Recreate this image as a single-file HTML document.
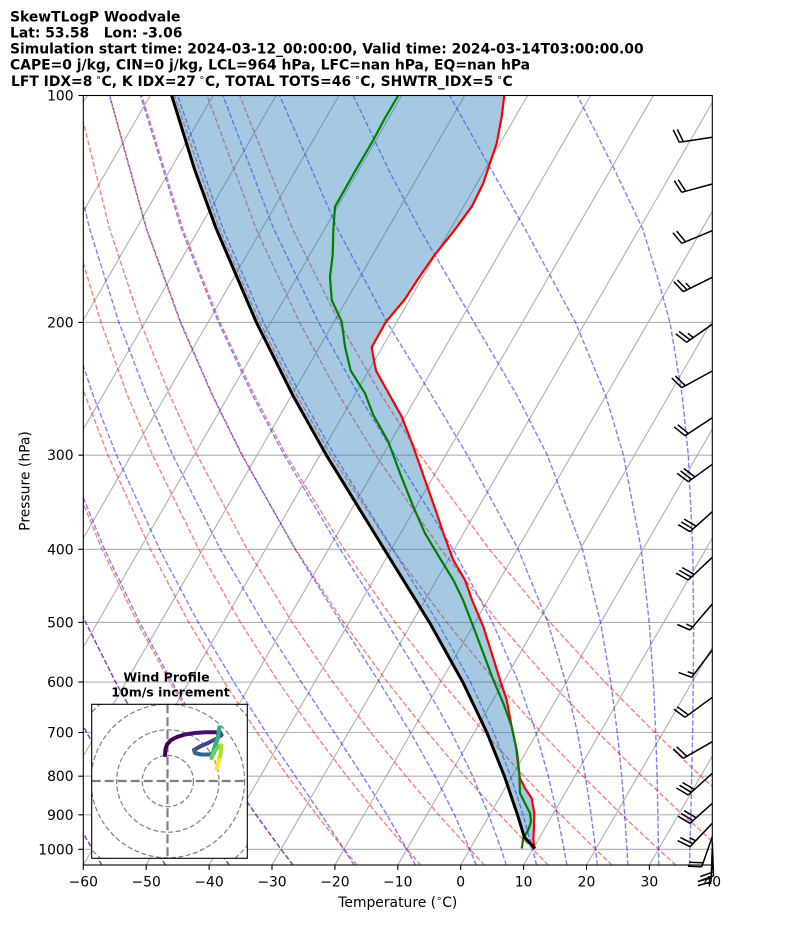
<!DOCTYPE html>
<html><head><meta charset="utf-8">
<style>
html,body{margin:0;padding:0;background:#fff;}
svg{display:block;}
text{font-family:"DejaVu Sans","Liberation Sans",sans-serif;}
.t{white-space:pre;}
</style></head>
<body>
<svg width="794" height="937" viewBox="0 0 794 937" xmlns="http://www.w3.org/2000/svg">
<defs>
<clipPath id="ax"><rect x="83.3" y="95.5" width="629" height="769.5"/></clipPath>
<clipPath id="hc"><rect x="91.7" y="704.3" width="155.6" height="154"/></clipPath>
</defs>
<rect width="794" height="937" fill="#fff"/>

<g font-weight="bold" font-size="13.9" fill="#000">
<text class="t" x="10" y="21.3">SkewTLogP Woodvale</text>
<text class="t" x="10" y="37.3">Lat: 53.58   Lon: -3.06</text>
<text class="t" x="10" y="53.4">Simulation start time: 2024-03-12_00:00:00, Valid time: 2024-03-14T03:00:00.00</text>
<text class="t" x="10" y="69.5">CAPE=0 j/kg, CIN=0 j/kg, LCL=964 hPa, LFC=nan hPa, EQ=nan hPa</text>
<text class="t" x="11" y="85.8">LFT IDX=8<tspan font-size="9.7" font-weight="normal" dy="-5.5"> ∘</tspan><tspan dy="5.5">C, K IDX=27</tspan><tspan font-size="9.7" font-weight="normal" dy="-5.5"> ∘</tspan><tspan dy="5.5">C, TOTAL TOTS=46</tspan><tspan font-size="9.7" font-weight="normal" dy="-5.5"> ∘</tspan><tspan dy="5.5">C, SHWTR_IDX=5</tspan><tspan font-size="9.7" font-weight="normal" dy="-5.5"> ∘</tspan><tspan dy="5.5">C</tspan></text>
</g>

<g clip-path="url(#ax)">
  <path fill="none" stroke="#b0b0b0" stroke-width="1.1" d="M-357 865L87.3 95.5M-294.1 865L150.2 95.5M-231.2 865L213.1 95.5M-168.3 865L276 95.5M-105.4 865L338.9 95.5M-42.5 865L401.8 95.5M20.4 865L464.7 95.5M83.3 865L527.6 95.5M146.2 865L590.5 95.5M209.1 865L653.4 95.5M272 865L716.3 95.5M334.9 865L779.2 95.5M397.8 865L842.1 95.5M460.7 865L905 95.5M523.6 865L967.9 95.5M586.5 865L1030.8 95.5M649.4 865L1093.7 95.5M83.3 322.4L712.3 322.4M83.3 455.2L712.3 455.2M83.3 549.3L712.3 549.3M83.3 622.4L712.3 622.4M83.3 682.1L712.3 682.1M83.3 732.5L712.3 732.5M83.3 776.2L712.3 776.2M83.3 814.8L712.3 814.8M83.3 849.3L712.3 849.3"/>

  <g fill="none" stroke="#ff0000" stroke-opacity="0.5" stroke-width="1.39" stroke-dasharray="5.14 2.22">
    <path d="M102 865.3L92.4 849.3L72.5 814.8L51.8 776.2L29.9 732.5L6.8 682.1L-17.5 622.4L-43.2 549.3L-70.4 455.2L-84.1 395.5L-97.6 322.4L-110 228.2L-118.7 95.5"/>
    <path d="M165.7 865.3L155.3 849.3L133.6 814.8L110.8 776.2L86.7 732.5L61.2 682.1L34.1 622.4L5.2 549.3L-25.8 455.2L-41.8 395.5L-57.9 322.4L-73.5 228.2L-86.1 95.5"/>
    <path d="M229.5 865.3L218.2 849.3L194.6 814.8L169.8 776.2L143.5 732.5L115.6 682.1L85.7 622.4L53.6 549.3L18.8 455.2L0.5 395.5L-18.2 322.4L-36.9 228.2L-53.5 95.5"/>
    <path d="M293.3 865.3L281.1 849.3L255.6 814.8L228.8 776.2L200.3 732.5L169.9 682.1L137.3 622.4L102 549.3L63.4 455.2L42.9 395.5L21.5 322.4L-0.3 228.2L-21 95.5"/>
    <path d="M357.1 865.3L344 849.3L316.6 814.8L287.8 776.2L257.1 732.5L224.3 682.1L188.9 622.4L150.4 549.3L108 455.2L85.2 395.5L61.2 322.4L36.3 228.2L11.6 95.5"/>
    <path d="M420.9 865.3L406.9 849.3L377.7 814.8L346.9 776.2L313.9 732.5L278.6 682.1L240.5 622.4L198.8 549.3L152.6 455.2L127.5 395.5L101 322.4L72.9 228.2L44.2 95.5"/>
    <path d="M484.6 865.3L469.8 849.3L438.7 814.8L405.9 776.2L370.8 732.5L333 682.1L292.1 622.4L247.2 549.3L197.2 455.2L169.9 395.5L140.6 322.4L109.4 228.2L76.8 95.5"/>
    <path d="M548.4 865.3L532.7 849.3L499.7 814.8L464.9 776.2L427.6 732.5L387.4 682.1L343.7 622.4L295.6 549.3L241.8 455.2L212.2 395.5L180.3 322.4L146 228.2L109.4 95.5"/>
    <path d="M612.2 865.3L595.6 849.3L560.8 814.8L523.9 776.2L484.4 732.5L441.7 682.1L395.3 622.4L344.1 549.3L286.4 455.2L254.5 395.5L220 322.4L182.6 228.2L141.9 95.5"/>
    <path d="M676 865.3L658.5 849.3L621.8 814.8L582.9 776.2L541.2 732.5L496.1 682.1L446.9 622.4L392.5 549.3L331 455.2L296.9 395.5L259.8 322.4L219.2 228.2L174.5 95.5"/>
    <path d="M739.8 865.3L721.4 849.3L682.8 814.8L641.9 776.2L598 732.5L550.4 682.1L498.5 622.4L440.9 549.3L375.6 455.2L339.2 395.5L299.5 322.4L255.8 228.2L207.1 95.5"/>
    <path d="M803.6 865.3L784.3 849.3L743.8 814.8L700.9 776.2L654.8 732.5L604.8 682.1L550.1 622.4L489.3 549.3L420.1 455.2L381.5 395.5L339.2 322.4L292.3 228.2L239.7 95.5"/>
  </g>

  <g fill="none" stroke="#0000ff" stroke-opacity="0.5" stroke-width="1.39" stroke-dasharray="5.14 2.22">
    <path d="M102 865.3L92.4 849.3L72.5 814.8L51.8 776.2L29.9 732.5L6.8 682.1L-17.5 622.4L-43.2 549.3L-70.4 455.2L-84.1 395.5L-97.6 322.4L-110 228.2L-118.7 95.5"/>
    <path d="M165.7 865.3L155.3 849.3L133.6 814.8L110.8 776.2L86.7 732.5L61.2 682.1L34.1 622.4L5.2 549.3L-25.8 455.2L-41.8 395.5L-57.9 322.4L-73.5 228.2L-86.1 95.5"/>
    <path d="M229.5 865.3L218.2 849.3L194.6 814.8L169.8 776.2L143.5 732.5L115.6 682.1L85.7 622.4L53.6 549.3L18.8 455.2L0.5 395.5L-18.2 322.4L-36.9 228.2L-53.5 95.5"/>
    <path d="M293 865.3L281.1 849.3L256.3 814.8L230 776.2L202 732.5L172 682.1L139.7 622.4L104.5 549.3L65.8 455.2L45.3 395.5L23.9 322.4L2.1 228.2L-18.4 95.5"/>
    <path d="M354.2 865.3L344 849.3L321.4 814.8L295.3 776.2L266.1 732.5L233.9 682.1L198.2 622.4L159.6 549.3L116.5 455.2L93.2 395.5L68.8 322.4L43.2 228.2L17.8 95.5"/>
    <path d="M415.6 865.3L406.9 849.3L386.9 814.8L362.8 776.2L334.4 732.5L301.3 682.1L263 622.4L220.4 549.3L172.8 455.2L146.7 395.5L118.9 322.4L89.4 228.2L58.9 95.5"/>
    <path d="M476.4 865.3L469.8 849.3L454.5 814.8L435.1 776.2L410.5 732.5L379.3 682.1L340.9 622.4L295.1 549.3L242.3 455.2L212.7 395.5L180.8 322.4L146.4 228.2L109.7 95.5"/>
    <path d="M506.4 865.3L501.2 849.3L488.7 814.8L472.7 776.2L451.5 732.5L423.5 682.1L386.7 622.4L340.2 549.3L284.2 455.2L252.6 395.5L218.5 322.4L181.1 228.2L140.6 95.5"/>
    <path d="M536.6 865.3L532.7 849.3L523.1 814.8L510.6 776.2L493.7 732.5L470.5 682.1L437.8 622.4L392.8 549.3L334.6 455.2L300.7 395.5L263.6 322.4L222.8 228.2L177.7 95.5"/>
    <path d="M566.9 865.3L564.1 849.3L557.2 814.8L548.3 776.2L536 732.5L518.5 682.1L492.5 622.4L453 549.3L395.1 455.2L359 395.5L318.6 322.4L273.5 228.2L222.9 95.5"/>
    <path d="M597.3 865.3L595.6 849.3L591.1 814.8L585.4 776.2L577.4 732.5L565.7 682.1L547.8 622.4L518.2 549.3L467.4 455.2L431.7 395.5L387.2 322.4L337.2 228.2L279.6 95.5"/>
    <path d="M627.9 865.3L627 849.3L624.7 814.8L621.7 776.2L617.3 732.5L610.8 682.1L600.5 622.4L582.5 549.3L547.3 455.2L517 395.5L474.1 322.4L419.3 228.2L388 168.6L353.3 95.5"/>
    <path d="M658.7 865.3L658.5 849.3L657.9 814.8L657.1 776.2L655.7 732.5L653.4 682.1L649.2 622.4L641.2 549.3L623.4 455.2L605.7 395.5L575.5 322.4L524.6 228.2L490.6 168.6L449.7 95.5"/>
    <path d="M689.5 865.3L689.9 849.3L690.8 814.8L691.7 776.2L692.6 732.5L693.3 682.1L693.6 622.4L692.8 549.3L688.3 455.2L682.2 395.5L669.9 322.4L658 278.7L642.4 228.2L614 168.6L577.4 95.5"/>
  </g>

  <path fill="#1f77b4" fill-opacity="0.4" stroke="none" d="M535 848.5L524.4 837.3L517.5 814.8L504.4 776.2L486.9 732.5L462.8 682.1L429.5 622.4L384.3 549.3L326.4 455.2L292.9 395.5L256.4 322.4L216 228.2L194.3 168.6L171.7 95.5L504.3 95.5L501.7 116.7L496.7 143.3L489.3 165L483.3 183.3L471.7 206.7L453.3 231.7L433.3 256.7L418 279L404.3 300L386 321.7L371.7 347.3L374 360.7L376 370.7L401.7 416.7L413.3 446.7L425 480L436.7 513.3L443.3 533.3L453.3 560L465 580L472 600L483.3 626.7L491.7 653.3L500 680L506.7 700L511.7 726.7L516 746.7L518.3 766.7L520 778.3L525 788.3L531.7 798.3L534.3 813.3L534 826.7L533.3 840L534.5 848.5Z"/>

  <polyline fill="none" stroke="#ff0000" stroke-width="2.2" stroke-linejoin="round" points="504.3,95.5 501.7,116.7 496.7,143.3 489.3,165 483.3,183.3 471.7,206.7 453.3,231.7 433.3,256.7 418,279 404.3,300 386,321.7 371.7,347.3 374,360.7 376,370.7 401.7,416.7 413.3,446.7 425,480 436.7,513.3 443.3,533.3 453.3,560 465,580 472,600 483.3,626.7 491.7,653.3 500,680 506.7,700 511.7,726.7 516,746.7 518.3,766.7 520,778.3 525,788.3 531.7,798.3 534.3,813.3 534,826.7 533.3,840 534.5,848.5"/>
  <polyline fill="none" stroke="#008000" stroke-width="2.2" stroke-linejoin="round" points="398.3,95.5 385,118 373.3,140 354,173 335,206.7 333.3,230 332.7,255 330,276.7 331.7,300 341.7,321.7 345,346.7 350.7,370.7 365,393.3 373.3,415 388.3,441.7 400,473.3 413.3,506.7 425,533.3 441,560 453.3,580 463,600 473.3,626.7 483.3,653.3 493.3,680 503.3,703.3 511.7,726.7 517.3,753.3 519.3,773.3 520,793.3 525,803.3 530,813.3 531,821.7 528.3,830 523.3,838.3 521.7,848.5"/>
  <path fill="none" stroke="#000" stroke-width="3" stroke-linejoin="round" d="M535 848.5L524.4 837.3L517.5 814.8L504.4 776.2L486.9 732.5L462.8 682.1L429.5 622.4L384.3 549.3L326.4 455.2L292.9 395.5L256.4 322.4L216 228.2L194.3 168.6L171.7 95.5"/>
</g>

<rect x="83.3" y="95.5" width="629" height="769.5" fill="none" stroke="#000" stroke-width="1.1"/>

<path fill="none" stroke="#000" stroke-width="1.1" d="M78.4 95.5L83.3 95.5M78.4 322.4L83.3 322.4M78.4 455.2L83.3 455.2M78.4 549.3L83.3 549.3M78.4 622.4L83.3 622.4M78.4 682.1L83.3 682.1M78.4 732.5L83.3 732.5M78.4 776.2L83.3 776.2M78.4 814.8L83.3 814.8M78.4 849.3L83.3 849.3M83.3 865L83.3 869.9M146.2 865L146.2 869.9M209.1 865L209.1 869.9M272 865L272 869.9M334.9 865L334.9 869.9M397.8 865L397.8 869.9M460.7 865L460.7 869.9M523.6 865L523.6 869.9M586.5 865L586.5 869.9M649.4 865L649.4 869.9M712.3 865L712.3 869.9"/>

<g font-size="13.9" fill="#000" text-anchor="end">
<text x="73.6" y="100.5">100</text>
<text x="73.6" y="327.4">200</text>
<text x="73.6" y="460.2">300</text>
<text x="73.6" y="554.3">400</text>
<text x="73.6" y="627.4">500</text>
<text x="73.6" y="687.1">600</text>
<text x="73.6" y="737.5">700</text>
<text x="73.6" y="781.2">800</text>
<text x="73.6" y="819.8">900</text>
<text x="73.6" y="854.3">1000</text>
</g>
<g font-size="13.9" fill="#000" text-anchor="middle">
<text x="83.3" y="886.5">−60</text>
<text x="146.2" y="886.5">−50</text>
<text x="209.1" y="886.5">−40</text>
<text x="272" y="886.5">−30</text>
<text x="334.9" y="886.5">−20</text>
<text x="397.8" y="886.5">−10</text>
<text x="460.7" y="886.5">0</text>
<text x="523.6" y="886.5">10</text>
<text x="586.5" y="886.5">20</text>
<text x="649.4" y="886.5">30</text>
<text x="712.3" y="886.5">40</text>
</g>
<text font-size="13.9" x="397.8" y="907" text-anchor="middle">Temperature (<tspan font-size="9.7" dy="-5.5">∘</tspan><tspan dy="5.5">C)</tspan></text>
<text font-size="13.9" text-anchor="middle" transform="translate(29.5,481) rotate(-90)">Pressure (hPa)</text>

<path fill="none" stroke="#000" stroke-width="1.5" d="M712.3 137.3L679.3 142.3M679.3 142.3L673.3 129.9M683.4 141.7L677.3 129.3
M712.3 184L681.7 192.3M681.7 192.3L674.3 180.6M685.7 191.2L678.2 179.6
M712.3 230.7L681.7 243.3M681.7 243.3L672.9 232.7M685.5 241.7L676.7 231.1
M712.3 277.3L683.3 291.7M683.3 291.7L673.8 281.7M687 289.9L677.4 279.9M690.6 288.1L685.9 283.1
M712.3 324.3L686.7 342.3M686.7 342.3L675.8 333.9M690.1 339.9L679.1 331.5M693.4 337.6L687.9 333.4
M712.3 371L681.7 387.7M681.7 387.7L671.8 378.1M685.3 385.7L675.4 376.1
M712.3 417.7L685 435.7M685 435.7L674.3 426.9M688.4 433.4L677.7 424.7
M712.3 464.3L688.3 481.7M688.3 481.7L677.2 473.4M691.6 479.3L680.6 471M694.9 476.9L683.9 468.6
M712.3 511.7L690 531.7M690 531.7L678.1 524.6M693.1 529L681.2 521.9M696.1 526.2L684.2 519.1
M712.3 557.3L688.3 580M688.3 580L676.3 573.2M691.3 577.2L679.2 570.4M694.3 574.4L682.2 567.6
M712.3 604L690 630M690 630L677.3 624.5M692.7 626.9L686.3 624.1
M712.3 650L691.7 677.3M691.7 677.3L678.7 672.6M694.2 674L687.7 671.7
M712.3 697.3L685 717.3M685 717.3L673.9 709.1M688.3 714.9L677.2 706.7
M712.3 741.7L683.3 758.3M683.3 758.3L673.2 748.9M686.9 756.3L676.7 746.8
M712.3 773.3L688.3 795M688.3 795L676.4 788M691.3 792.3L679.5 785.2M694.4 789.5L682.5 782.5
M712.3 803.3L690 823.3M690 823.3L678.1 816.2M693.1 820.6L681.2 813.5M696.1 817.8L684.2 810.7
M712.3 823.3L690 846.7M690 846.7L677.6 840.6M692.8 843.7L680.4 837.6M695.7 840.8L689.5 837.7
M712.3 836.7L701.7 866.7M701.7 866.7L687.9 866.2M703.1 862.8L689.3 862.3
M712.3 842L713.5 876M713.5 876L700.5 880.6M713.4 871.9L700.3 876.5
M712.3 848L711 882M711 882L697.7 885.6M711.2 877.9L697.8 881.5"/>

<g font-weight="bold" font-size="12.5" text-anchor="middle" fill="#000">
<text x="166.5" y="681.7">Wind Profile</text>
<text x="170.5" y="696.7">10m/s increment</text>
</g>
<rect x="91.7" y="704.3" width="155.6" height="154" fill="#fff"/>
<g clip-path="url(#hc)">
  <g fill="none" stroke="#808080" stroke-width="1.2" stroke-dasharray="5 2.5">
    <circle cx="167.8" cy="781" r="25.6"/>
    <circle cx="167.8" cy="781" r="51.2"/>
    <circle cx="167.8" cy="781" r="76.8"/>
    <circle cx="167.8" cy="781" r="102.4"/>
  </g>
  <g stroke="#808080" stroke-width="2.2" stroke-dasharray="9 4">
    <line x1="167.5" y1="704.3" x2="167.5" y2="858.3"/>
    <line x1="91.7" y1="781" x2="247.3" y2="781"/>
  </g>
  <g fill="none" stroke-width="4" stroke-linecap="round" stroke-linejoin="round">
    <polyline stroke="#440154" points="165,755 165.5,749 167,744.5 171,740 177,737 185,734.5"/>
    <polyline stroke="#46106a" points="185,734.5 195,733 205,732.3 214,732.3 220,732.5 221.5,735"/>
    <polyline stroke="#3e4a89" points="221.5,735 216,739 208,743 200,746.5 194,750"/>
    <polyline stroke="#31688e" points="194,750 195,753 201,754.5 209,754.5 214,753"/>
    <polyline stroke="#21918c" points="214,753 216,745 218,736 219.5,727.5"/>
    <polyline stroke="#2db27d" points="219.5,727.5 218,737 215,746 212,755 211.5,758"/>
    <polyline stroke="#6ece58" points="211.5,758 214,752 218,747 221.5,745.5"/>
    <polyline stroke="#b5de2b" points="221.5,745.5 221,752 219,760"/>
    <polyline stroke="#fde725" points="219,760 216.7,768.5"/>
  </g>
</g>
<rect x="91.7" y="704.3" width="155.6" height="154" fill="none" stroke="#000" stroke-width="1.1"/>
</svg>
</body></html>
